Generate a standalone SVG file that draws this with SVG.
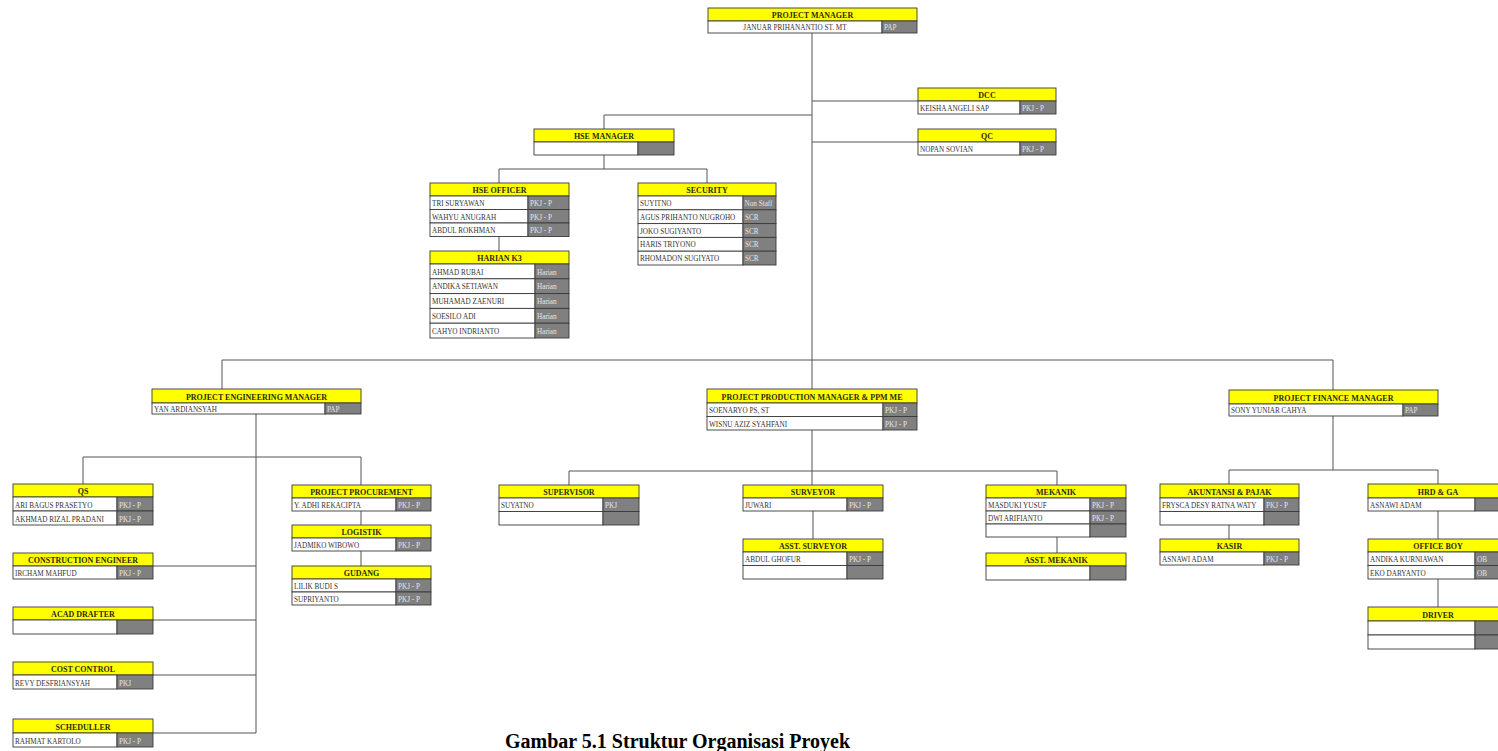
<svg xmlns="http://www.w3.org/2000/svg" width="1498" height="751" viewBox="0 0 1498 751">
<style>
.hd{fill:#ffff00;stroke:#3a3a3a;stroke-width:0.9}
.wc{fill:#ffffff;stroke:#3a3a3a;stroke-width:0.9}
.gc{fill:#808080;stroke:#3a3a3a;stroke-width:0.9}
.ht{font-family:"Liberation Serif",serif;font-weight:bold;font-size:8px;fill:#2b2b10;text-anchor:middle}
.nt{font-family:"Liberation Serif",serif;font-size:7.2px;fill:#333333}
.ct{font-family:"Liberation Serif",serif;font-size:7.2px;fill:#333333;text-anchor:middle}
.gt{font-family:"Liberation Serif",serif;font-size:7.2px;fill:#e6e6e6}
.ln{fill:none;stroke:#555555;stroke-width:1}
.cap{font-family:"Liberation Serif",serif;font-weight:bold;font-size:20px;fill:#000000}
</style>
<rect x="0" y="0" width="1498" height="751" fill="#ffffff"/>
<g id="connectors">
<path class="ln" d="M812,33 V389"/>
<path class="ln" d="M812,101 H918 M812,142 H918"/>
<path class="ln" d="M812,115 H604 V129"/>
<path class="ln" d="M604,155 V169 M499,183 V169 H707 V183"/>
<path class="ln" d="M499,236.5 V251"/>
<path class="ln" d="M222,389 V360 H1333 V390"/>
<path class="ln" d="M256,414 V733"/>
<path class="ln" d="M83,484 V457 H361 V485"/>
<path class="ln" d="M361,511 V525 M361,551 V566"/>
<path class="ln" d="M153,566 H256 M153,620 H256 M153,675 H256 M153,733 H256"/>
<path class="ln" d="M812,430 V485 M569,485 V471 H1057 V485"/>
<path class="ln" d="M813,511 V539"/>
<path class="ln" d="M1057,537 V553"/>
<path class="ln" d="M1333,416 V470 M1229,484 V470 H1438 V484"/>
<path class="ln" d="M1229,525 V539"/>
<path class="ln" d="M1438,511 V539 M1438,579 V607"/>
</g>

<g id="project-manager">
<rect class="hd" x="708" y="8" width="209" height="13"/>
<text class="ht" x="812.5" y="18">PROJECT MANAGER</text>
<rect class="wc" x="708" y="21" width="174" height="12"/>
<rect class="gc" x="882" y="21" width="35" height="12"/>
<text class="ct" x="795" y="30">JANUAR PRIHANANTIO ST. MT</text>
<text class="gt" x="884" y="30">PAP</text>
</g>

<g id="dcc">
<rect class="hd" x="918" y="88" width="138" height="13"/>
<text class="ht" x="987" y="98">DCC</text>
<rect class="wc" x="918" y="101" width="102" height="13"/>
<rect class="gc" x="1020" y="101" width="36" height="13"/>
<text class="nt" x="920" y="111">KEISHA ANGELI SAP</text>
<text class="gt" x="1022" y="111">PKJ - P</text>
</g>

<g id="qc">
<rect class="hd" x="918" y="129" width="138" height="13"/>
<text class="ht" x="987" y="139">QC</text>
<rect class="wc" x="918" y="142" width="102" height="13"/>
<rect class="gc" x="1020" y="142" width="36" height="13"/>
<text class="nt" x="920" y="152">NOPAN SOVIAN</text>
<text class="gt" x="1022" y="152">PKJ - P</text>
</g>

<g id="hse-manager">
<rect class="hd" x="534" y="129" width="140" height="13"/>
<text class="ht" x="604" y="139">HSE MANAGER</text>
<rect class="wc" x="534" y="142" width="104" height="13"/>
<rect class="gc" x="638" y="142" width="36" height="13"/>
</g>

<g id="hse-officer">
<rect class="hd" x="430" y="183" width="139" height="13"/>
<text class="ht" x="499.5" y="193">HSE OFFICER</text>
<rect class="wc" x="430" y="196" width="98" height="13.5"/>
<rect class="gc" x="528" y="196" width="41" height="13.5"/>
<text class="nt" x="432" y="206">TRI SURYAWAN</text>
<text class="gt" x="530" y="206">PKJ - P</text>
<rect class="wc" x="430" y="209.5" width="98" height="13.5"/>
<rect class="gc" x="528" y="209.5" width="41" height="13.5"/>
<text class="nt" x="432" y="219.5">WAHYU ANUGRAH</text>
<text class="gt" x="530" y="219.5">PKJ - P</text>
<rect class="wc" x="430" y="223" width="98" height="13.5"/>
<rect class="gc" x="528" y="223" width="41" height="13.5"/>
<text class="nt" x="432" y="233">ABDUL ROKHMAN</text>
<text class="gt" x="530" y="233">PKJ - P</text>
</g>

<g id="harian-k3">
<rect class="hd" x="430" y="251" width="139" height="13"/>
<text class="ht" x="499.5" y="261">HARIAN K3</text>
<rect class="wc" x="430" y="264" width="105" height="14.8"/>
<rect class="gc" x="535" y="264" width="34" height="14.8"/>
<text class="nt" x="432" y="274.5">AHMAD RUBAI</text>
<text class="gt" x="537" y="274.5">Harian</text>
<rect class="wc" x="430" y="278.8" width="105" height="14.8"/>
<rect class="gc" x="535" y="278.8" width="34" height="14.8"/>
<text class="nt" x="432" y="289.3">ANDIKA SETIAWAN</text>
<text class="gt" x="537" y="289.3">Harian</text>
<rect class="wc" x="430" y="293.6" width="105" height="14.8"/>
<rect class="gc" x="535" y="293.6" width="34" height="14.8"/>
<text class="nt" x="432" y="304.1">MUHAMAD ZAENURI</text>
<text class="gt" x="537" y="304.1">Harian</text>
<rect class="wc" x="430" y="308.4" width="105" height="14.8"/>
<rect class="gc" x="535" y="308.4" width="34" height="14.8"/>
<text class="nt" x="432" y="318.9">SOESILO ADI</text>
<text class="gt" x="537" y="318.9">Harian</text>
<rect class="wc" x="430" y="323.2" width="105" height="14.8"/>
<rect class="gc" x="535" y="323.2" width="34" height="14.8"/>
<text class="nt" x="432" y="333.7">CAHYO INDRIANTO</text>
<text class="gt" x="537" y="333.7">Harian</text>
</g>

<g id="security">
<rect class="hd" x="638" y="183" width="138" height="13"/>
<text class="ht" x="707" y="193">SECURITY</text>
<rect class="wc" x="638" y="196" width="105" height="13.8"/>
<rect class="gc" x="743" y="196" width="33" height="13.8"/>
<text class="nt" x="640" y="206">SUYITNO</text>
<text class="gt" x="744.5" y="206">Non Staff</text>
<rect class="wc" x="638" y="209.8" width="105" height="13.8"/>
<rect class="gc" x="743" y="209.8" width="33" height="13.8"/>
<text class="nt" x="640" y="219.8">AGUS PRIHANTO NUGROHO</text>
<text class="gt" x="745" y="219.8">SCR</text>
<rect class="wc" x="638" y="223.6" width="105" height="13.8"/>
<rect class="gc" x="743" y="223.6" width="33" height="13.8"/>
<text class="nt" x="640" y="233.6">JOKO SUGIYANTO</text>
<text class="gt" x="745" y="233.6">SCR</text>
<rect class="wc" x="638" y="237.4" width="105" height="13.8"/>
<rect class="gc" x="743" y="237.4" width="33" height="13.8"/>
<text class="nt" x="640" y="247.4">HARIS TRIYONO</text>
<text class="gt" x="745" y="247.4">SCR</text>
<rect class="wc" x="638" y="251.2" width="105" height="13.8"/>
<rect class="gc" x="743" y="251.2" width="33" height="13.8"/>
<text class="nt" x="640" y="261.2">RHOMADON SUGIYATO</text>
<text class="gt" x="745" y="261.2">SCR</text>
</g>

<g id="project-engineering-manager">
<rect class="hd" x="152" y="389" width="209" height="14"/>
<text class="ht" x="256.5" y="399.5">PROJECT ENGINEERING MANAGER</text>
<rect class="wc" x="152" y="403" width="173" height="11"/>
<rect class="gc" x="325" y="403" width="36" height="11"/>
<text class="nt" x="154" y="411.5">YAN ARDIANSYAH</text>
<text class="gt" x="327" y="411.5">PAP</text>
</g>

<g id="project-production-manager">
<rect class="hd" x="707" y="389" width="210" height="14"/>
<text class="ht" x="812" y="399.5">PROJECT PRODUCTION MANAGER &amp; PPM ME</text>
<rect class="wc" x="707" y="403" width="176" height="13.5"/>
<rect class="gc" x="883" y="403" width="34" height="13.5"/>
<text class="nt" x="709" y="413">SOENARYO PS, ST</text>
<text class="gt" x="885" y="413">PKJ - P</text>
<rect class="wc" x="707" y="416.5" width="176" height="13.5"/>
<rect class="gc" x="883" y="416.5" width="34" height="13.5"/>
<text class="nt" x="709" y="426.5">WISNU AZIZ SYAHFANI</text>
<text class="gt" x="885" y="426.5">PKJ - P</text>
</g>

<g id="project-finance-manager">
<rect class="hd" x="1229" y="390" width="209" height="14"/>
<text class="ht" x="1333.5" y="400.5">PROJECT FINANCE MANAGER</text>
<rect class="wc" x="1229" y="404" width="174" height="12"/>
<rect class="gc" x="1403" y="404" width="35" height="12"/>
<text class="nt" x="1231" y="413">SONY YUNIAR CAHYA</text>
<text class="gt" x="1405" y="413">PAP</text>
</g>

<g id="qs">
<rect class="hd" x="13" y="484" width="140" height="13"/>
<text class="ht" x="83" y="494">QS</text>
<rect class="wc" x="13" y="497" width="104" height="14"/>
<rect class="gc" x="117" y="497" width="36" height="14"/>
<text class="nt" x="15" y="507.5">ARI BAGUS PRASETYO</text>
<text class="gt" x="119" y="507.5">PKJ - P</text>
<rect class="wc" x="13" y="511" width="104" height="14"/>
<rect class="gc" x="117" y="511" width="36" height="14"/>
<text class="nt" x="15" y="521.5">AKHMAD RIZAL PRADANI</text>
<text class="gt" x="119" y="521.5">PKJ - P</text>
</g>

<g id="construction-engineer">
<rect class="hd" x="13" y="553" width="140" height="13"/>
<text class="ht" x="83" y="563">CONSTRUCTION ENGINEER</text>
<rect class="wc" x="13" y="566" width="104" height="13"/>
<rect class="gc" x="117" y="566" width="36" height="13"/>
<text class="nt" x="15" y="576">IRCHAM MAHFUD</text>
<text class="gt" x="119" y="576">PKJ - P</text>
</g>

<g id="acad-drafter">
<rect class="hd" x="13" y="607" width="140" height="13"/>
<text class="ht" x="83" y="617">ACAD DRAFTER</text>
<rect class="wc" x="13" y="620" width="104" height="14"/>
<rect class="gc" x="117" y="620" width="36" height="14"/>
</g>

<g id="cost-control">
<rect class="hd" x="13" y="662" width="140" height="13"/>
<text class="ht" x="83" y="672">COST CONTROL</text>
<rect class="wc" x="13" y="675" width="104" height="14"/>
<rect class="gc" x="117" y="675" width="36" height="14"/>
<text class="nt" x="15" y="685.5">REVY DESFRIANSYAH</text>
<text class="gt" x="119" y="685.5">PKJ</text>
</g>

<g id="scheduller">
<rect class="hd" x="13" y="719" width="140" height="14"/>
<text class="ht" x="83" y="729.5">SCHEDULLER</text>
<rect class="wc" x="13" y="733" width="104" height="14"/>
<rect class="gc" x="117" y="733" width="36" height="14"/>
<text class="nt" x="15" y="743.5">RAHMAT KARTOLO</text>
<text class="gt" x="119" y="743.5">PKJ - P</text>
</g>

<g id="project-procurement">
<rect class="hd" x="292" y="485" width="139" height="13"/>
<text class="ht" x="361.5" y="495">PROJECT PROCUREMENT</text>
<rect class="wc" x="292" y="498" width="104" height="13"/>
<rect class="gc" x="396" y="498" width="35" height="13"/>
<text class="nt" x="294" y="508">Y. ADHI REKACIPTA</text>
<text class="gt" x="398" y="508">PKJ - P</text>
</g>

<g id="logistik">
<rect class="hd" x="292" y="525" width="139" height="13"/>
<text class="ht" x="361.5" y="535">LOGISTIK</text>
<rect class="wc" x="292" y="538" width="104" height="13"/>
<rect class="gc" x="396" y="538" width="35" height="13"/>
<text class="nt" x="294" y="548">JADMIKO WIBOWO</text>
<text class="gt" x="398" y="548">PKJ - P</text>
</g>

<g id="gudang">
<rect class="hd" x="292" y="566" width="139" height="13"/>
<text class="ht" x="361.5" y="576">GUDANG</text>
<rect class="wc" x="292" y="579" width="104" height="13"/>
<rect class="gc" x="396" y="579" width="35" height="13"/>
<text class="nt" x="294" y="589">LILIK BUDI S</text>
<text class="gt" x="398" y="589">PKJ - P</text>
<rect class="wc" x="292" y="592" width="104" height="13"/>
<rect class="gc" x="396" y="592" width="35" height="13"/>
<text class="nt" x="294" y="602">SUPRIYANTO</text>
<text class="gt" x="398" y="602">PKJ - P</text>
</g>

<g id="supervisor">
<rect class="hd" x="499" y="485" width="140" height="13"/>
<text class="ht" x="569" y="495">SUPERVISOR</text>
<rect class="wc" x="499" y="498" width="104" height="13.5"/>
<rect class="gc" x="603" y="498" width="36" height="13.5"/>
<text class="nt" x="501" y="508">SUYATNO</text>
<text class="gt" x="605" y="508">PKJ</text>
<rect class="wc" x="499" y="511.5" width="104" height="13.5"/>
<rect class="gc" x="603" y="511.5" width="36" height="13.5"/>
</g>

<g id="surveyor">
<rect class="hd" x="743" y="485" width="140" height="13"/>
<text class="ht" x="813" y="495">SURVEYOR</text>
<rect class="wc" x="743" y="498" width="104" height="13"/>
<rect class="gc" x="847" y="498" width="36" height="13"/>
<text class="nt" x="745" y="508">JUWARI</text>
<text class="gt" x="849" y="508">PKJ - P</text>
</g>

<g id="asst-surveyor">
<rect class="hd" x="743" y="539" width="140" height="13"/>
<text class="ht" x="813" y="549">ASST. SURVEYOR</text>
<rect class="wc" x="743" y="552" width="104" height="13.5"/>
<rect class="gc" x="847" y="552" width="36" height="13.5"/>
<text class="nt" x="745" y="562">ABDUL GHOFUR</text>
<text class="gt" x="849" y="562">PKJ - P</text>
<rect class="wc" x="743" y="565.5" width="104" height="13.5"/>
<rect class="gc" x="847" y="565.5" width="36" height="13.5"/>
</g>

<g id="mekanik">
<rect class="hd" x="986" y="485" width="140" height="13"/>
<text class="ht" x="1056" y="495">MEKANIK</text>
<rect class="wc" x="986" y="498" width="104" height="13"/>
<rect class="gc" x="1090" y="498" width="36" height="13"/>
<text class="nt" x="988" y="508">MASDUKI YUSUF</text>
<text class="gt" x="1092" y="508">PKJ - P</text>
<rect class="wc" x="986" y="511" width="104" height="13"/>
<rect class="gc" x="1090" y="511" width="36" height="13"/>
<text class="nt" x="988" y="521">DWI ARIFIANTO</text>
<text class="gt" x="1092" y="521">PKJ - P</text>
<rect class="wc" x="986" y="524" width="104" height="13"/>
<rect class="gc" x="1090" y="524" width="36" height="13"/>
</g>

<g id="asst-mekanik">
<rect class="hd" x="986" y="553" width="140" height="13"/>
<text class="ht" x="1056" y="563">ASST. MEKANIK</text>
<rect class="wc" x="986" y="566" width="104" height="14"/>
<rect class="gc" x="1090" y="566" width="36" height="14"/>
</g>

<g id="akuntansi-pajak">
<rect class="hd" x="1160" y="484" width="139" height="14"/>
<text class="ht" x="1229.5" y="494.5">AKUNTANSI &amp; PAJAK</text>
<rect class="wc" x="1160" y="498" width="104" height="13.5"/>
<rect class="gc" x="1264" y="498" width="35" height="13.5"/>
<text class="nt" x="1162" y="508">FRYSCA DESY RATNA WATY</text>
<text class="gt" x="1266" y="508">PKJ - P</text>
<rect class="wc" x="1160" y="511.5" width="104" height="13.5"/>
<rect class="gc" x="1264" y="511.5" width="35" height="13.5"/>
</g>

<g id="kasir">
<rect class="hd" x="1160" y="539" width="139" height="13"/>
<text class="ht" x="1229.5" y="549">KASIR</text>
<rect class="wc" x="1160" y="552" width="104" height="13"/>
<rect class="gc" x="1264" y="552" width="35" height="13"/>
<text class="nt" x="1162" y="562">ASNAWI ADAM</text>
<text class="gt" x="1266" y="562">PKJ - P</text>
</g>

<g id="hrd-ga">
<rect class="hd" x="1368" y="484" width="140" height="14"/>
<text class="ht" x="1438" y="494.5">HRD &amp; GA</text>
<rect class="wc" x="1368" y="498" width="107" height="13"/>
<rect class="gc" x="1475" y="498" width="33" height="13"/>
<text class="nt" x="1370" y="508">ASNAWI ADAM</text>
</g>

<g id="office-boy">
<rect class="hd" x="1368" y="539" width="140" height="13"/>
<text class="ht" x="1438" y="549">OFFICE BOY</text>
<rect class="wc" x="1368" y="552" width="107" height="13.5"/>
<rect class="gc" x="1475" y="552" width="33" height="13.5"/>
<text class="nt" x="1370" y="562">ANDIKA KURNIAWAN</text>
<text class="gt" x="1477" y="562">OB</text>
<rect class="wc" x="1368" y="565.5" width="107" height="13.5"/>
<rect class="gc" x="1475" y="565.5" width="33" height="13.5"/>
<text class="nt" x="1370" y="575.5">EKO DARYANTO</text>
<text class="gt" x="1477" y="575.5">OB</text>
</g>

<g id="driver">
<rect class="hd" x="1368" y="607" width="140" height="14"/>
<text class="ht" x="1438" y="617.5">DRIVER</text>
<rect class="wc" x="1368" y="621" width="107" height="14"/>
<rect class="gc" x="1475" y="621" width="33" height="14"/>
<rect class="wc" x="1368" y="635" width="107" height="14"/>
<rect class="gc" x="1475" y="635" width="33" height="14"/>
</g>

<text class="cap" x="505" y="748">Gambar 5.1 Struktur Organisasi Proyek</text>
</svg>
